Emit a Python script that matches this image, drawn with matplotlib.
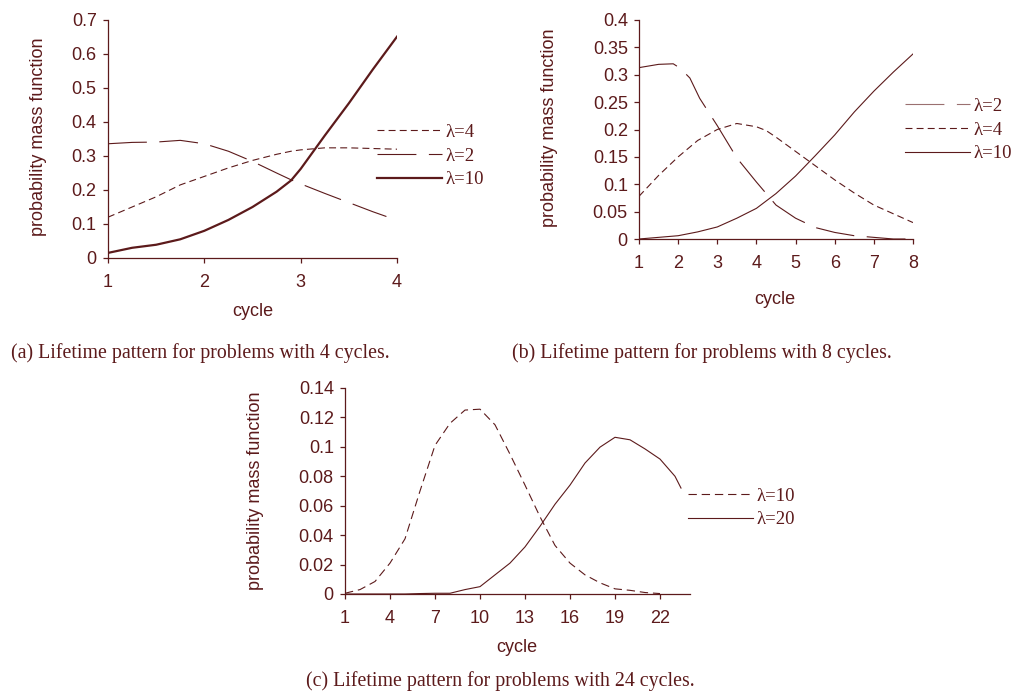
import matplotlib
matplotlib.use('Agg')
import matplotlib.pyplot as plt

# ---------------- data ----------------
# (a) 4 cycles
a_x_l4 = [1, 1.25, 1.5, 1.75, 2, 2.25, 2.5, 2.75, 2.9, 3, 3.25, 3.5, 3.75, 4]
a_y_l4 = [0.12, 0.15, 0.18, 0.215, 0.24, 0.265, 0.287, 0.305, 0.314, 0.318, 0.324, 0.324, 0.322, 0.320]
a_x_l2 = [1, 1.25, 1.5, 1.75, 2, 2.25, 2.5, 2.75, 2.9, 3, 3.25, 3.5, 3.75, 3.89]
a_y_l2 = [0.336, 0.340, 0.341, 0.346, 0.336, 0.314, 0.284, 0.250, 0.230, 0.218, 0.190, 0.163, 0.136, 0.122]
a_x_l10 = [1, 1.25, 1.5, 1.75, 2, 2.25, 2.5, 2.75, 2.9, 3, 3.25, 3.5, 3.75, 4]
a_y_l10 = [0.015, 0.030, 0.039, 0.055, 0.080, 0.112, 0.150, 0.195, 0.228, 0.262, 0.360, 0.455, 0.555, 0.651]
a_xticks = [1, 2, 3, 4]
a_yticks = [0, 0.1, 0.2, 0.3, 0.4, 0.5, 0.6, 0.7]
a_yticklabels = ['0', '0.1', '0.2', '0.3', '0.4', '0.5', '0.6', '0.7']

# (b) 8 cycles
b_x_l2 = [1, 1.5, 1.875, 2.05, 2.3, 2.55, 3, 3.5, 4, 4.5, 5, 5.5, 6, 6.5, 7, 7.5, 8]
b_y_l2 = [0.313, 0.319, 0.320, 0.312, 0.294, 0.257, 0.207, 0.148, 0.104, 0.062, 0.038, 0.021, 0.012, 0.006, 0.003, 0.0, 0.0]
b_x_l4 = [1, 1.5, 2, 2.5, 3, 3.5, 4, 4.25, 4.5, 5, 5.5, 6, 6.5, 7, 7.5, 8]
b_y_l4 = [0.078, 0.116, 0.150, 0.180, 0.200, 0.211, 0.205, 0.198, 0.186, 0.160, 0.134, 0.108, 0.084, 0.062, 0.046, 0.030]
b_x_l10 = [1, 1.5, 2, 2.5, 3, 3.5, 4, 4.5, 5, 5.5, 6, 6.5, 7, 7.5, 8]
b_y_l10 = [0.0, 0.003, 0.006, 0.013, 0.022, 0.038, 0.056, 0.083, 0.115, 0.152, 0.190, 0.232, 0.270, 0.305, 0.338]
b_xticks = [1, 2, 3, 4, 5, 6, 7, 8]
b_yticks = [0, 0.05, 0.1, 0.15, 0.2, 0.25, 0.3, 0.35, 0.4]
b_yticklabels = ['0', '0.05', '0.1', '0.15', '0.2', '0.25', '0.3', '0.35', '0.4']

# (c) 24 cycles
c_x_l10 = [1, 2, 3, 4, 5, 6, 7, 8, 9, 10, 11, 12, 13, 14, 15, 16, 17, 18, 19, 20, 21, 22]
c_y_l10 = [0.0005, 0.003, 0.0085, 0.021, 0.0375, 0.070, 0.101, 0.116, 0.125, 0.1256, 0.115, 0.095,
           0.074, 0.0525, 0.033, 0.021, 0.013, 0.0076, 0.0035, 0.0025, 0.001, 0.0003]
c_x_l20 = [1, 2, 3, 4, 5, 6, 7, 8, 9, 10, 11, 12, 13, 14, 15, 16, 17, 18, 19, 20, 21, 22, 23, 23.4]
c_y_l20 = [0, 0, 0, 0, 0, 0.0003, 0.0005, 0.0005, 0.003, 0.005, 0.013, 0.021, 0.032, 0.046, 0.061,
           0.074, 0.089, 0.0998, 0.1065, 0.1048, 0.0986, 0.0917, 0.080, 0.072]
c_xticks = [1, 4, 7, 10, 13, 16, 19, 22]
c_yticks = [0, 0.02, 0.04, 0.06, 0.08, 0.1, 0.12, 0.14]
c_yticklabels = ['0', '0.02', '0.04', '0.06', '0.08', '0.1', '0.12', '0.14']

captions = ['(a) Lifetime pattern for problems with 4 cycles.',
            '(b) Lifetime pattern for problems with 8 cycles.',
            '(c) Lifetime pattern for problems with 24 cycles.']

# ---------------- style ----------------
C = '#5c1a1b'
SANS = 'Liberation Sans'
SERIF = 'Liberation Serif'
plt.rcParams['lines.scale_dashes'] = False
FS = 13
FS_SERIF = 14.3
FS_LEG = 13.5

LONG = (0, (28, 9))
SHORT = (0, (5, 3))

W, H = 1016, 700
fig = plt.figure(figsize=(W / 100, H / 100), dpi=100)


def axes_px(l, r, t, b):
    return fig.add_axes([l / W, 1 - b / H, (r - l) / W, (b - t) / H])


def style(ax, xlim, ylim, xticks, yticks, yticklabels):
    ax.set_xlim(*xlim)
    ax.set_ylim(*ylim)
    for s in ['top', 'right']:
        ax.spines[s].set_visible(False)
    for s in ['left', 'bottom']:
        ax.spines[s].set_color(C)
        ax.spines[s].set_linewidth(0.9)
    ax.set_xticks(xticks)
    ax.set_xticklabels([str(v) for v in xticks])
    ax.set_yticks(yticks)
    ax.set_yticklabels(yticklabels)
    ax.tick_params(axis='both', direction='out', length=3.6, width=0.9, color=C,
                   labelcolor=C, labelsize=FS)
    ax.tick_params(axis='y', pad=4.5)
    ax.tick_params(axis='x', pad=8)
    for lab in ax.get_xticklabels() + ax.get_yticklabels():
        lab.set_fontfamily(SANS)
    ax.patch.set_alpha(0)


def legend(ax, order, x, y):
    handles, labels = ax.get_legend_handles_labels()
    d = dict(zip(labels, handles))
    leg = ax.legend([d[k] for k in order], order, loc='center left', bbox_to_anchor=(x, y),
                    frameon=False, prop={'family': SERIF, 'size': FS_LEG}, handlelength=3.45,
                    handletextpad=0.2, labelspacing=0.36, borderpad=0, borderaxespad=0)
    for t in leg.get_texts():
        t.set_color(C)
    return leg


# (a)
axa = axes_px(108, 397, 20, 258)
axa.plot(a_x_l4, a_y_l4, color=C, lw=0.8, linestyle=SHORT, label='λ=4')
axa.plot(a_x_l2, a_y_l2, color=C, lw=0.8, linestyle=LONG, label='λ=2')
axa.plot(a_x_l10, a_y_l10, color=C, lw=1.6, linestyle='-', label='λ=10')
style(axa, (1, 4), (0, 0.7), a_xticks, a_yticks, a_yticklabels)
legend(axa, ['λ=4', 'λ=2', 'λ=10'], (377 - 108) / 289, (258 - 156) / 238)

# (b)
axb = axes_px(639, 913, 20, 239)
axb.plot(b_x_l2, b_y_l2, color=C, lw=0.8, linestyle=LONG, label='λ=2')
axb.plot(b_x_l4, b_y_l4, color=C, lw=0.8, linestyle=SHORT, label='λ=4')
axb.plot(b_x_l10, b_y_l10, color=C, lw=0.8, linestyle='-', label='λ=10')
style(axb, (1, 8), (0, 0.4), b_xticks, b_yticks, b_yticklabels)
legb = legend(axb, ['λ=2', 'λ=4', 'λ=10'], (905 - 639) / 274, (239 - 130) / 219)
legb.legend_handles[0].set_color('#9a7070')

# (c)
axc = axes_px(345, 690, 388, 594)
axc.plot(c_x_l10, c_y_l10, color=C, lw=0.8, linestyle=(0, (6, 3.5)), label='λ=10')
axc.plot(c_x_l20, c_y_l20, color=C, lw=0.8, linestyle='-', label='λ=20')
style(axc, (1, 24), (0, 0.14), c_xticks, c_yticks, c_yticklabels)
legend(axc, ['λ=10', 'λ=20'], 0.995, (594 - 508) / 206)

# axis labels
def ftext(x, y, s, **kw):
    fig.text(x / W, 1 - y / H, s, color=C, **kw)

ftext(38.5, 137, 'probability mass function', rotation=90, ha='center', va='center', family=SANS, fontsize=FS)
ftext(550, 128, 'probability mass function', rotation=90, ha='center', va='center', family=SANS, fontsize=FS)
ftext(255, 491, 'probability mass function', rotation=90, ha='center', va='center', family=SANS, fontsize=FS)
ftext(253, 311, 'cycle', ha='center', va='center', family=SANS, fontsize=FS)
ftext(775, 300, 'cycle', ha='center', va='center', family=SANS, fontsize=FS)
ftext(517, 648, 'cycle', ha='center', va='center', family=SANS, fontsize=FS)

# captions
ftext(200, 358, captions[0], ha='center', va='baseline', family=SERIF, fontsize=FS_SERIF)
ftext(702, 358, captions[1], ha='center', va='baseline', family=SERIF, fontsize=FS_SERIF)
ftext(500, 686, captions[2], ha='center', va='baseline', family=SERIF, fontsize=FS_SERIF)

fig.savefig('out.png', dpi=100, facecolor='white')
